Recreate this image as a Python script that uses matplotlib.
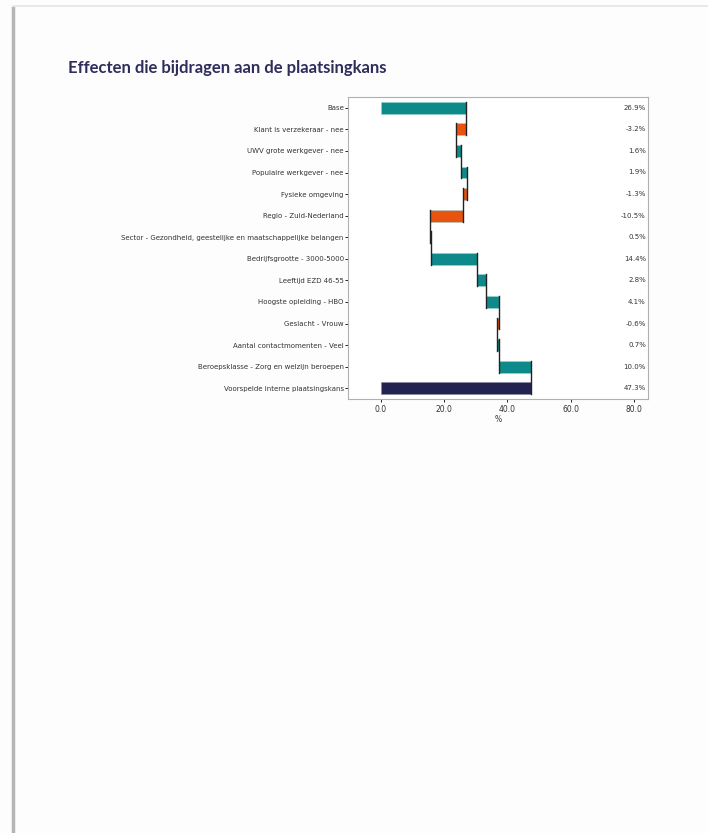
import numpy as np
import matplotlib
matplotlib.use("Agg")
import matplotlib.pyplot as plt
from matplotlib.lines import Line2D

# --- data ---
labels = [
    "Base",
    "Klant is verzekeraar - nee",
    "UWV grote werkgever - nee",
    "Populaire werkgever - nee",
    "Fysieke omgeving",
    "Regio - Zuid-Nederland",
    "Sector - Gezondheid, geestelijke en maatschappelijke belangen",
    "Bedrijfsgrootte - 3000-5000",
    "Leeftijd EZD 46-55",
    "Hoogste opleiding - HBO",
    "Geslacht - Vrouw",
    "Aantal contactmomenten - Veel",
    "Beroepsklasse - Zorg en welzijn beroepen",
]
effects = [26.9, -3.2, 1.6, 1.9, -1.3, -10.5, 0.5, 14.4, 2.8, 4.1, -0.6, 0.7, 10.0]
total_label = "Voorspelde interne plaatsingskans"
total_value = 47.3
xticks = [0, 20, 40, 60, 80]

TEAL = "#0f8a8a"
ORANGE = "#e8530e"
NAVY = "#23234f"

fig = plt.figure(figsize=(7.08, 8.33), dpi=100)
fig.patch.set_facecolor("#fdfdfd")

# page edges of the document screenshot
fig.add_artist(Line2D([0.019, 0.019], [0.0, 0.99], color="#b5b5b5", lw=2.5))
fig.add_artist(Line2D([0.019, 1.0], [0.993, 0.993], color="#e6e6e6", lw=1.2))

fig.text(68 / 708, 1 - 68 / 833, "Effecten die bijdragen aan de plaatsingkans",
         fontsize=12, fontweight="bold", color="#2e2d5c",
         family="Lato", va="center", ha="left")

ax = fig.add_axes([348 / 708, 1 - 399 / 833, 300 / 708, 302 / 833])

ends = np.cumsum(effects)
starts = ends - np.array(effects)
n = len(labels)
ypos = np.arange(n + 1)
h = 0.55

colors = [TEAL if v >= 0 else ORANGE for v in effects]
ax.barh(ypos[:n], effects, left=starts, height=h, color=colors,
        edgecolor="#9fd3d3", linewidth=0.4, zorder=2)
ax.barh(ypos[n], total_value, left=0, height=h, color=NAVY,
        edgecolor="#8888aa", linewidth=0.4, zorder=2)

# connectors
for i in range(n):
    ax.plot([ends[i], ends[i]], [ypos[i] - h / 2, ypos[i + 1] + h / 2],
            color="#222222", lw=1.0, zorder=3)

# value labels on the right
vals = list(effects) + [total_value]
for y, v in zip(ypos, vals):
    ax.text(0.993, y, f"{v:.1f}%", transform=ax.get_yaxis_transform(),
            ha="right", va="center", fontsize=5, color="#333333")

ax.set_ylim(n + 0.5, -0.5)
ax.set_xlim(-10.4, 84.4)
ax.set_yticks(ypos)
ax.set_yticklabels(labels + [total_label], fontsize=5, color="#333333")
ax.set_xticks(xticks)
ax.set_xticklabels([f"{t:.1f}" for t in xticks], fontsize=5.5, color="#333333")
ax.set_xlabel("%", fontsize=5.5, color="#333333", labelpad=1)
ax.tick_params(axis="y", length=2, width=0.6, pad=1)
ax.tick_params(axis="x", length=2, width=0.6, pad=2)
for s in ax.spines.values():
    s.set_color("#b0b0b0")
    s.set_linewidth(0.8)

fig.savefig("out.png", dpi=100, facecolor=fig.get_facecolor())
